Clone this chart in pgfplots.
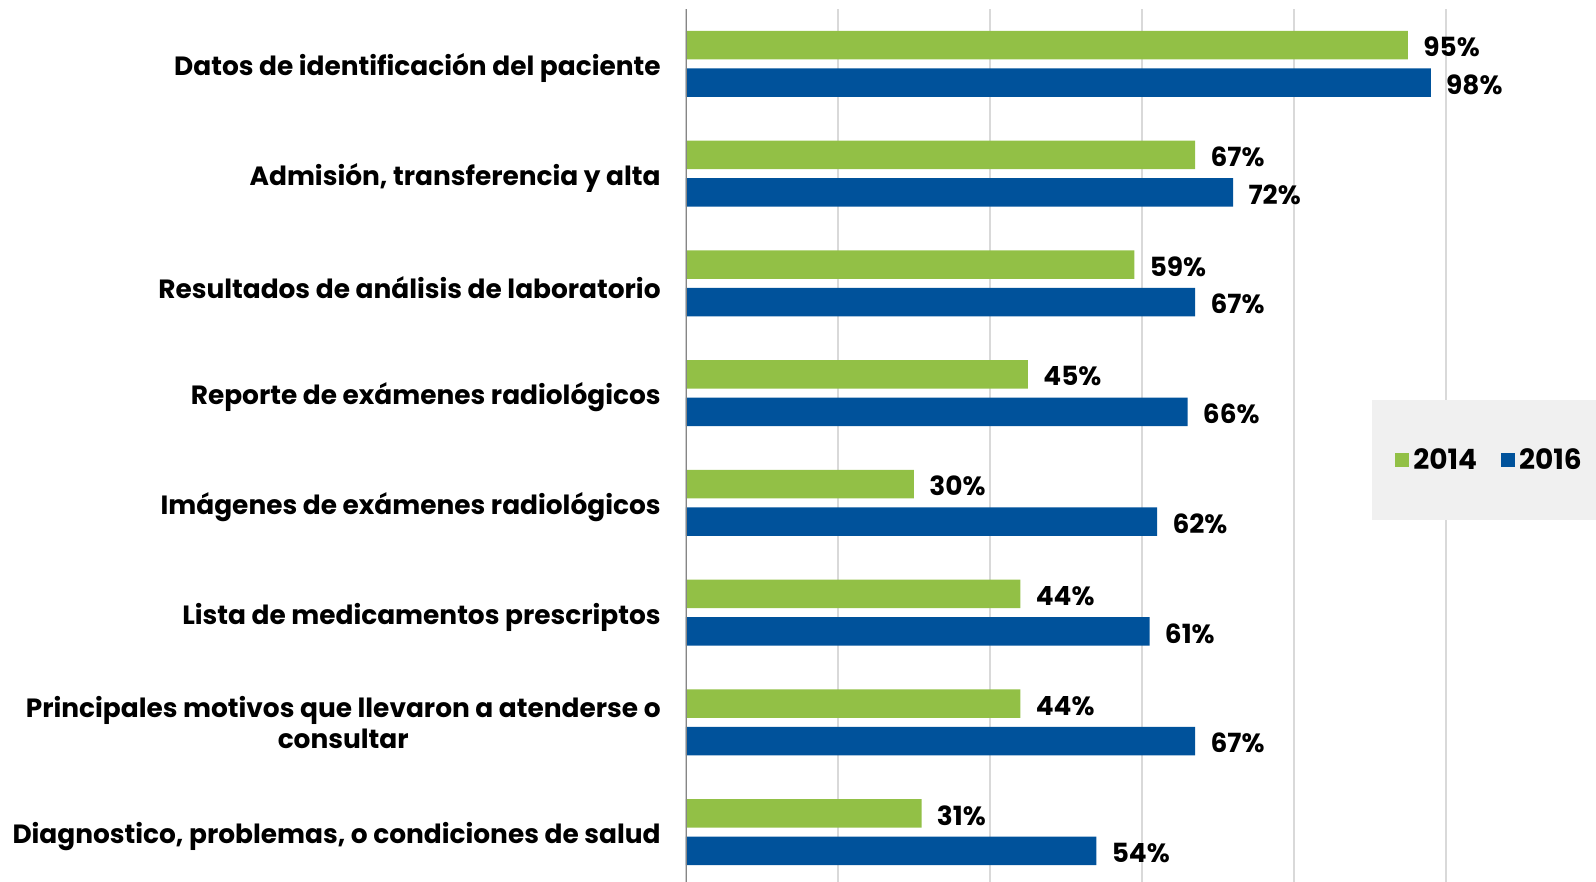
\documentclass[border=0pt]{standalone}
\usepackage{pgfplots}
\pgfplotsset{compat=1.18}
\usepackage{fontspec}
\setmainfont{Poppins}
\definecolor{cgreen}{HTML}{92C046}
\definecolor{cblue}{HTML}{00529B}
\definecolor{cgrid}{HTML}{D9D9D9}
\definecolor{caxis}{HTML}{868686}
\definecolor{clegend}{HTML}{F0F0F0}
\newcommand\lbl{\fontsize{13.2pt}{15.5pt}\selectfont\bfseries}
\newcommand\lgd{\fontsize{14pt}{16pt}\selectfont\bfseries}
\pgfplotsset{sqlegend/.style={legend image code/.code={\draw[##1,draw=none] (0pt,-3.5pt) rectangle (7pt,3.5pt);}}}
\begin{document}
\begin{tikzpicture}
\useasboundingbox (-343pt,2.5pt) rectangle ++(798pt,441pt);
\begin{axis}[
  at={(0pt,0pt)}, anchor=south west,
  scale only axis,
  width=380pt, height=439pt,
  xmin=0, xmax=100,
  ymin=-0.5, ymax=7.5,
  xtick={0,20,...,100},
  xticklabels={},
  xmajorgrids, grid style={cgrid, line width=1pt},
  major tick length=0pt,
  axis line style={draw=none},
  ytick={0,2,3,4,5,6,7},
  yticklabels={{Diagnostico, problemas, o condiciones de salud},
    {Lista de medicamentos prescriptos},
    {Imágenes de exámenes radiológicos},
    {Reporte de exámenes radiológicos},
    {Resultados de análisis de laboratorio},
    {Admisión, transferencia y alta},
    {Datos de identificación del paciente}},
  extra y ticks={1},
  extra y tick labels={{Principales motivos que llevaron a atenderse o\\consultar}},
  extra y tick style={yticklabel style={yshift=2pt}},
  yticklabel style={font=\lbl, align=center, inner sep=0pt, xshift=-12.5pt, yshift=-2.2pt},
  xbar, bar width=14.3pt,
  /pgf/number format/assume math mode=true,
  nodes near coords={\pgfmathprintnumber{\pgfplotspointmeta}\%},
  nodes near coords style={font=\lbl, anchor=west, inner sep=0pt, xshift=7.5pt, yshift=-1pt},
  legend columns=2,
  legend style={at={(axis description cs:0.9026,0.5547)}, anchor=north west,
    fill=clegend, draw=none, inner xsep=11.5pt, inner ysep=22pt, font=\lgd,
    /tikz/every even column/.append style={column sep=10pt}},
]
\addplot[fill=cgreen, draw=none, bar shift=9.35pt, sqlegend] coordinates {(31,0) (44,1) (44,2) (30,3) (45,4) (59,5) (67,6) (95,7)};
\addplot[fill=cblue, draw=none, bar shift=-9.35pt, sqlegend] coordinates {(54,0) (67,1) (61,2) (62,3) (66,4) (67,5) (72,6) (98,7)};
\draw[caxis, line width=1pt] (rel axis cs:0,0) -- (rel axis cs:0,1);
\legend{2014,2016}
\end{axis}
\end{tikzpicture}
\end{document}
